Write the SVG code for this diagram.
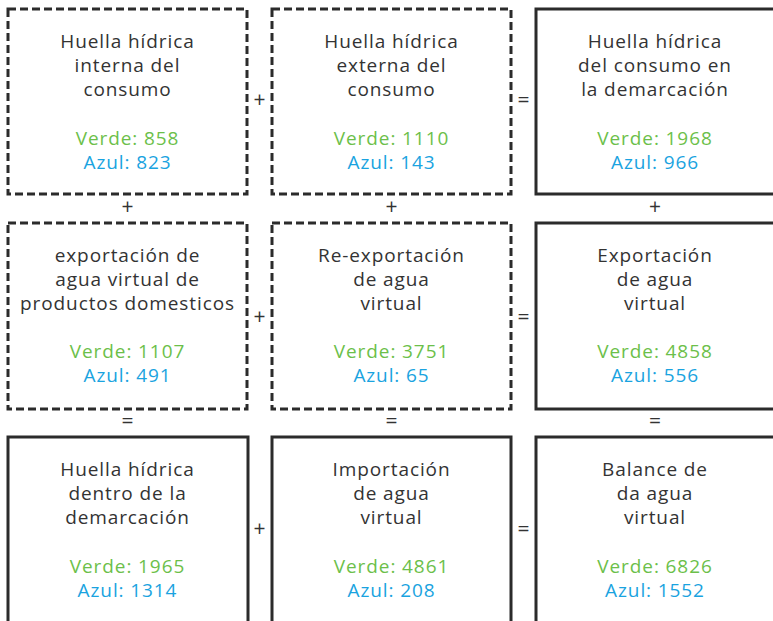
<svg xmlns="http://www.w3.org/2000/svg" width="773" height="621" viewBox="0 0 773 621">
<style>
.box{fill:#fff;stroke:#2b2b2b;stroke-width:3}
.dash{stroke-dasharray:8 4}
text{font-family:"Open Sans","Liberation Sans",sans-serif;font-size:19px;letter-spacing:0.9px;text-anchor:middle;fill:#333}
.g{fill:#6cbf4a}
.b{fill:#1aa3e0}
.op{font-size:21px;letter-spacing:0}
</style>
<rect width="773" height="621" fill="#fff"/>
<g id="n1"><rect class="box dash" x="8" y="9" width="239" height="185"/>
<text x="127.5" y="48">Huella hídrica</text><text x="127.5" y="72">interna del</text><text x="127.5" y="96">consumo</text>
<text class="g" x="127.5" y="145">Verde: 858</text><text class="b" x="127.5" y="169">Azul: 823</text></g>
<g id="n2"><rect class="box dash" x="272" y="9" width="239" height="185"/>
<text x="391.5" y="48">Huella hídrica</text><text x="391.5" y="72">externa del</text><text x="391.5" y="96">consumo</text>
<text class="g" x="391.5" y="145">Verde: 1110</text><text class="b" x="391.5" y="169">Azul: 143</text></g>
<g id="n3"><rect class="box" x="536" y="9" width="239" height="185"/>
<text x="655" y="48">Huella hídrica</text><text x="655" y="72">del consumo en</text><text x="655" y="96">la demarcación</text>
<text class="g" x="655" y="145">Verde: 1968</text><text class="b" x="655" y="169">Azul: 966</text></g>
<g id="n4"><rect class="box dash" x="8" y="223" width="239" height="186"/>
<text x="127.5" y="262">exportación de</text><text x="127.5" y="286">agua virtual de</text><text x="127.5" y="310">productos domesticos</text>
<text class="g" x="127.5" y="358">Verde: 1107</text><text class="b" x="127.5" y="382">Azul: 491</text></g>
<g id="n5"><rect class="box dash" x="272" y="223" width="239" height="186"/>
<text x="391.5" y="262">Re-exportación</text><text x="391.5" y="286">de agua</text><text x="391.5" y="310">virtual</text>
<text class="g" x="391.5" y="358">Verde: 3751</text><text class="b" x="391.5" y="382">Azul: 65</text></g>
<g id="n6"><rect class="box" x="536" y="223" width="239" height="186"/>
<text x="655" y="262">Exportación</text><text x="655" y="286">de agua</text><text x="655" y="310">virtual</text>
<text class="g" x="655" y="358">Verde: 4858</text><text class="b" x="655" y="382">Azul: 556</text></g>
<g id="n7"><rect class="box" x="8" y="437" width="240" height="200"/>
<text x="127.5" y="476">Huella hídrica</text><text x="127.5" y="500">dentro de la</text><text x="127.5" y="524">demarcación</text>
<text class="g" x="127.5" y="573">Verde: 1965</text><text class="b" x="127.5" y="597">Azul: 1314</text></g>
<g id="n8"><rect class="box" x="272" y="437" width="239" height="200"/>
<text x="391.5" y="476">Importación</text><text x="391.5" y="500">de agua</text><text x="391.5" y="524">virtual</text>
<text class="g" x="391.5" y="573">Verde: 4861</text><text class="b" x="391.5" y="597">Azul: 208</text></g>
<g id="n9"><rect class="box" x="536" y="437" width="239" height="200"/>
<text x="655" y="476">Balance de</text><text x="655" y="500">da agua</text><text x="655" y="524">virtual</text>
<text class="g" x="655" y="573">Verde: 6826</text><text class="b" x="655" y="597">Azul: 1552</text></g>
<g id="connectors">
<text class="op" x="259.5" y="107">+</text><text class="op" x="523.5" y="107">=</text>
<text class="op" x="127.5" y="214">+</text><text class="op" x="391.5" y="214">+</text><text class="op" x="655" y="214">+</text>
<text class="op" x="259.5" y="324">+</text><text class="op" x="523.5" y="324">=</text>
<text class="op" x="127.5" y="428">=</text><text class="op" x="391.5" y="428">=</text><text class="op" x="655" y="428">=</text>
<text class="op" x="259.5" y="536">+</text><text class="op" x="523.5" y="536">=</text>
</g>
</svg>
